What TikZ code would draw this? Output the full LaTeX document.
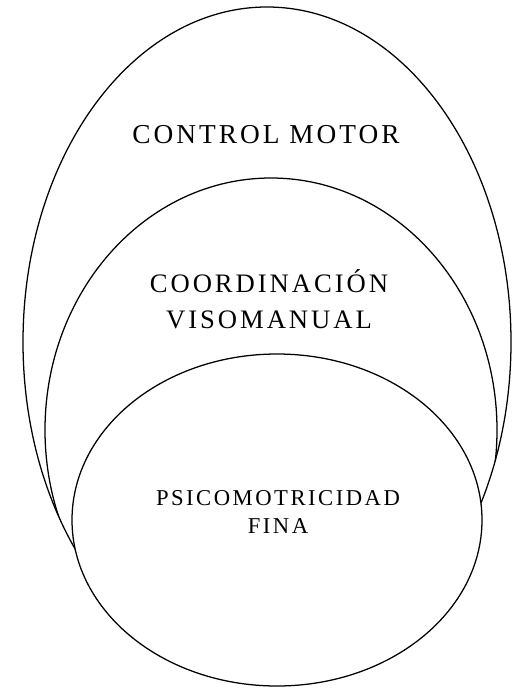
\documentclass[tikz,border=0pt]{standalone}
\usepackage{fontspec}
\setmainfont[LetterSpace=11]{Liberation Serif}
\begin{document}
\begin{tikzpicture}[x=0.75pt, y=-0.75pt,
  ov/.style={draw=black, line width=0.95pt},
  lb/.style={align=center, inner sep=0pt, font=\fontsize{20}{27}\selectfont},
  lbs/.style={lb, font=\fontsize{17}{21.5}\selectfont}]
\useasboundingbox (0,0) rectangle (511,689);
% outer ellipse
\draw[ov] (267,342) ellipse [x radius=244, y radius=335];
% middle ellipse, cut where it leaves the outer one
\begin{scope}
\clip (267,342) ellipse [x radius=244, y radius=335];
\draw[ov] (271,430) ellipse [x radius=226, y radius=252];
\end{scope}
% inner ellipse on top
\draw[ov, fill=white] (277,520) ellipse [x radius=205, y radius=166];
\node[lb, font=\fontsize{20.5}{27}\selectfont] (cm) at (266,135) {CONTROL MOTOR};
\node[lb] (cv) at (269,299) {COORDINACIÓN\\ VISOMANUAL};
\node[lbs] (pf) at (278,512) {PSICOMOTRICIDAD\\ FINA};
\end{tikzpicture}
\end{document}
